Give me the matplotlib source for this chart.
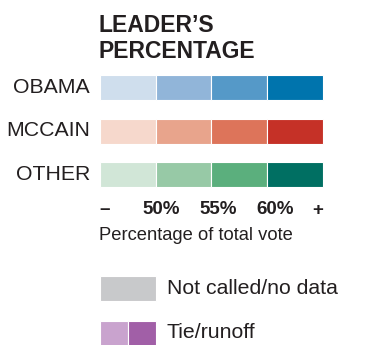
import matplotlib
matplotlib.use("Agg")
import matplotlib.pyplot as plt

plt.rcParams['font.family'] = ['Liberation Sans', 'DejaVu Sans']

# ---- data ----
title_lines = ["LEADER\u2019S", "PERCENTAGE"]
candidates = ["OBAMA", "MCCAIN", "OTHER"]
bin_labels = ["\u2013", "50%", "55%", "60%", "+"]
colors = {
    "OBAMA": ["#cfdeed", "#91b5d9", "#5599c8", "#0074ad"],
    "MCCAIN": ["#f6d8cc", "#e8a48c", "#dd745a", "#c53127"],
    "OTHER": ["#d1e6d7", "#97c9a6", "#5baf7d", "#006f62"],
}
axis_title = "Percentage of total vote"
nodata_label = "Not called/no data"
nodata_color = "#c8c9cb"
tie_label = "Tie/runoff"
tie_colors = ["#c9a3ce", "#a15fa7"]

W, H = 374, 345
fig = plt.figure(figsize=(W / 100, H / 100), dpi=100)
ax = fig.add_axes([0, 0, 1, 1])
ax.set_xlim(0, W)
ax.set_ylim(H, 0)
ax.axis('off')

x0, sw = 100, 55.75
row_y0, row_step, bh = 87.5, 43.5, 25
txt = '#231f20'

# title
for i, t in enumerate(title_lines):
    ax.text(x0 - 1, 25 + i * 26, t, fontsize=16.5, fontweight='bold',
            color=txt, ha='left', va='center')

# rows
for r, name in enumerate(candidates):
    yc = row_y0 + r * row_step
    ax.barh([yc] * 4, [sw] * 4, left=[x0 + k * sw for k in range(4)],
            height=bh, color=colors[name], edgecolor='white', linewidth=0.8)
    ax.text(90, yc, name, fontsize=15.3, color=txt, ha='right', va='center')

# bin labels
label_pos = [0.09, 1.09, 2.12, 3.14, 3.9]
for lab, p in zip(bin_labels, label_pos):
    ax.text(x0 + p * sw, 210, lab, fontsize=13.5, fontweight='bold',
            color=txt, ha='center', va='center')

ax.text(x0 - 0.5, 235, axis_title, fontsize=13.2, color=txt, ha='left', va='center')

# legend: not called
ax.barh([288.5], [sw], left=[x0], height=25, color=nodata_color,
        edgecolor='white', linewidth=0.8)
ax.text(167, 288.5, nodata_label, fontsize=15.3, color=txt, ha='left', va='center')

# legend: tie
ax.barh([333.5] * 2, [sw / 2] * 2, left=[x0, x0 + sw / 2], height=25,
        color=tie_colors, edgecolor='white', linewidth=0.8)
ax.text(167, 332, tie_label, fontsize=15.3, color=txt, ha='left', va='center')

fig.savefig("out.png", dpi=100)
